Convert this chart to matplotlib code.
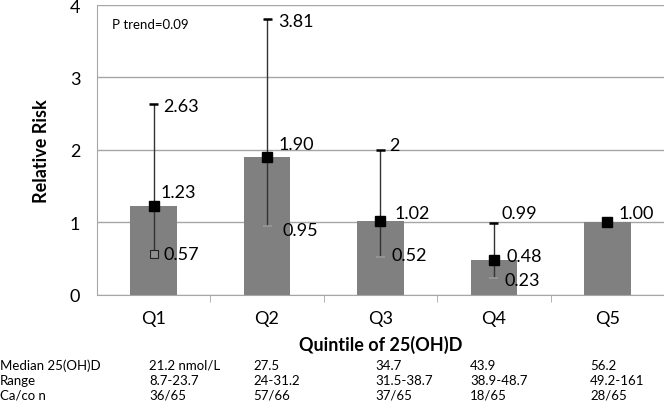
import matplotlib.pyplot as plt

plt.rcParams['font.family'] = ['Lato', 'DejaVu Sans']

quintiles = ['Q1', 'Q2', 'Q3', 'Q4', 'Q5']
rr = [1.23, 1.90, 1.02, 0.48, 1.00]
lower = [0.57, 0.95, 0.52, 0.23, 1.00]
upper = [2.63, 3.81, 2.00, 0.99, 1.00]
rr_labels = ['1.23', '1.90', '1.02', '0.48', '1.00']
lower_labels = ['0.57', '0.95', '0.52', '0.23', '']
upper_labels = ['2.63', '3.81', '2', '0.99', '']

row_names = ['Median 25(OH)D', 'Range', 'Ca/co n']
median = ['21.2 nmol/L', '27.5', '34.7', '43.9', '56.2']
ranges = ['8.7-23.7', '24-31.2', '31.5-38.7', '38.9-48.7', '49.2-161']
cases = ['36/65', '57/66', '37/65', '18/65', '28/65']

fig = plt.figure(figsize=(6.64, 4.02), dpi=100)
ax = fig.add_axes([0.146, 0.264, 0.854, 0.721])

x = list(range(len(quintiles)))
ax.bar(x, rr, width=0.41, color='#808080', zorder=2)

# confidence intervals
for i in x:
    if upper[i] == lower[i]:
        continue
    ax.vlines(i, lower[i], upper[i], color='#333333', lw=1, zorder=3)
    ax.hlines(upper[i], i - 0.04, i + 0.04, color='black', lw=1.8, zorder=3)
    ax.hlines(lower[i], i - 0.04, i + 0.04, color='#999999', lw=1.2, zorder=3)
# Q1 lower bound drawn as hollow marker
ax.plot(x[0], lower[0], marker='s', ms=6, mfc='#909090', mec='#222222', mew=0.8, zorder=4)
ax.plot(x, rr, 's', color='black', ms=6.5, zorder=4, lw=0)

rr_dy = [14, 13, 8, 4, 9]
rr_dx = [7, 11, 14, 13, 11]
lo_dy = [0, -4, 2, -2, 0]
lo_dx = [10, 15, 11, 11, 0]
up_dx = [10, 11, 9, 8, 0]
up_dy = [-2, -2, 5, 10, 0]
for i in x:
    ax.annotate(rr_labels[i], (i, rr[i]), xytext=(rr_dx[i], rr_dy[i]), textcoords='offset pixels',
                ha='left', va='center', fontsize=13)
    if lower_labels[i]:
        ax.annotate(lower_labels[i], (i, lower[i]), xytext=(lo_dx[i], lo_dy[i]), textcoords='offset pixels',
                    ha='left', va='center', fontsize=13)
    if upper_labels[i]:
        ax.annotate(upper_labels[i], (i, upper[i]), xytext=(up_dx[i], up_dy[i]), textcoords='offset pixels',
                    ha='left', va='center', fontsize=13)

ax.set_xlim(-0.5, 4.5)
ax.set_ylim(0, 4)
ax.set_yticks([0, 1, 2, 3, 4])
ax.yaxis.grid(True, color='#a6a6a6', lw=1, zorder=0)
ax.set_axisbelow(True)
ax.tick_params(axis='y', length=0, labelsize=13, pad=12)
ax.set_xticks(x)
ax.set_xticklabels(quintiles, fontsize=13)
ax.set_xticks([0.5, 1.5, 2.5, 3.5], minor=True)
ax.tick_params(axis='x', which='major', length=0, pad=11)
ax.tick_params(axis='x', which='minor', length=5, color='#a6a6a6')
for s in ['top', 'right']:
    ax.spines[s].set_visible(False)
ax.spines['left'].set_color('#a6a6a6')
ax.spines['bottom'].set_color('#a6a6a6')

ax.set_ylabel('Relative Risk', fontsize=13, fontweight='bold', labelpad=14)
ax.set_xlabel('Quintile of 25(OH)D', fontsize=13, fontweight='bold', labelpad=6)
ax.text(0.026, 0.934, 'P trend=0.09', transform=ax.transAxes, fontsize=9.5, ha='left', va='center')

# table under the chart
col_x = [149, 253, 375, 470, 590]
rows = [median, ranges, cases]
row_y = [366, 381, 396]
for r in range(3):
    fig.text(0 / 664, 1 - row_y[r] / 402, row_names[r], fontsize=9.5, ha='left', va='center')
    for c in range(5):
        fig.text(col_x[c] / 664, 1 - row_y[r] / 402, rows[r][c], fontsize=9.5, ha='left', va='center')

plt.savefig('out.png', dpi=100)
